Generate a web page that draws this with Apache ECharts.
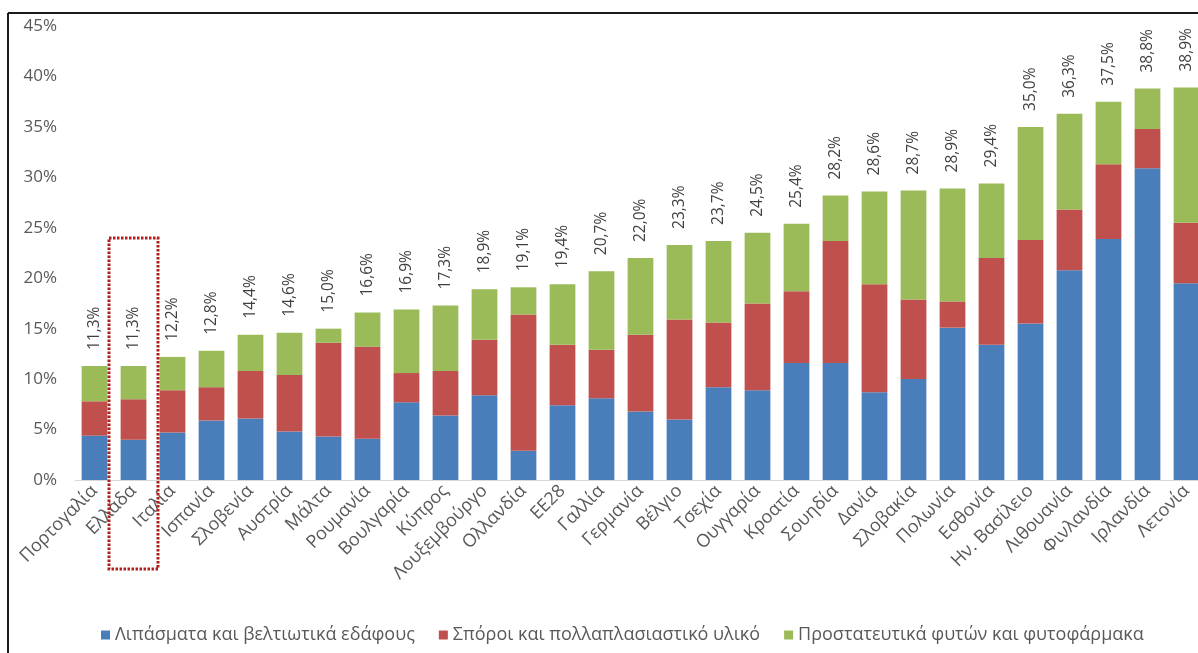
<!DOCTYPE html>
<html>
<head>
<meta charset="utf-8">
<script src="https://cdn.jsdelivr.net/npm/echarts@6.0.0/dist/echarts.min.js"></script>
<style>
  html, body { margin: 0; padding: 0; background: #ffffff; }
  #chart { width: 1198px; height: 653px; overflow: hidden; }
</style>
</head>
<body>
<div id="chart"></div>
<script>
const categories = ['Πορτογαλία','Ελλάδα','Ιταλία','Ισπανία','Σλοβενία','Αυστρία','Μάλτα','Ρουμανία','Βουλγαρία','Κύπρος','Λουξεμβούργο','Ολλανδία','ΕΕ28','Γαλλία','Γερμανία','Βέλγιο','Τσεχία','Ουγγαρία','Κροατία','Σουηδία','Δανία','Σλοβακία','Πολωνία','Εσθονία','Ην. Βασίλειο','Λιθουανία','Φινλανδία','Ιρλανδία','Λετονία'];
const fertilizers = [4.4,4.0,4.7,5.9,6.1,4.8,4.3,4.1,7.7,6.4,8.4,2.9,7.4,8.1,6.8,6.0,9.2,8.9,11.6,11.6,8.7,10.0,15.1,13.4,15.5,20.8,23.9,30.9,19.5];
const seeds = [3.4,4.0,4.2,3.3,4.7,5.6,9.3,9.1,2.9,4.4,5.5,13.5,6.0,4.8,7.6,9.9,6.4,8.6,7.1,12.1,10.7,7.9,2.6,8.6,8.3,6.0,7.4,3.9,6.0];
const pesticides = [3.5,3.3,3.3,3.6,3.6,4.2,1.4,3.4,6.3,6.5,5.0,2.7,6.0,7.8,7.6,7.4,8.1,7.0,6.7,4.5,9.2,10.8,11.2,7.4,11.2,9.5,6.2,4.0,13.4];
const totals = [11.3,11.3,12.2,12.8,14.4,14.6,15.0,16.6,16.9,17.3,18.9,19.1,19.4,20.7,22.0,23.3,23.7,24.5,25.4,28.2,28.6,28.7,28.9,29.4,35.0,36.3,37.5,38.8,38.9];
const yTicks = [0,5,10,15,20,25,30,35,40,45];
const seriesNames = ['Λιπάσματα και βελτιωτικά εδάφους','Σπόροι και πολλαπλασιαστικό υλικό','Προστατευτικά φυτών και φυτοφάρμακα'];
const highlighted = 'Ελλάδα';

const FONT = "'Open Sans', 'Noto Sans', 'DejaVu Sans', sans-serif";
const colors = ['#4A7EBB', '#C0504D', '#9BBB59'];

const chart = echarts.init(document.getElementById('chart'), null, { renderer: 'canvas' });

function fmtPct(v) { return v.toFixed(1).replace('.', ',') + '%'; }

const option = {
  backgroundColor: '#ffffff',
  animation: false,
  textStyle: { fontFamily: FONT },
  grid: {
    left: 75, top: 26, width: 29 * 39, height: 454,
    containLabel: false, outerBoundsMode: 'none'
  },
  legend: {
    left: 96, top: 621,
    icon: 'rect', itemWidth: 9, itemHeight: 9, itemGap: 24,
    textStyle: { fontFamily: FONT, fontSize: 18, color: '#595959' },
    data: seriesNames
  },
  xAxis: {
    type: 'category',
    data: categories,
    axisLine: { show: true, lineStyle: { color: '#d9d9d9', width: 1 } },
    axisTick: { show: false },
    axisLabel: { rotate: 45, margin: 8, fontSize: 18, color: '#595959', fontFamily: FONT, interval: 0 },
    splitLine: { show: false }
  },
  yAxis: {
    type: 'value',
    min: yTicks[0], max: yTicks[yTicks.length - 1], interval: 5,
    axisLine: { show: false },
    axisTick: { show: false },
    splitLine: { show: false },
    axisLabel: { formatter: '{value}%', fontSize: 17, color: '#595959', margin: 18, fontFamily: FONT }
  },
  series: [
    {
      name: seriesNames[0], type: 'bar', stack: 'total', data: fertilizers,
      barWidth: '66%', itemStyle: { color: colors[0] }
    },
    {
      name: seriesNames[1], type: 'bar', stack: 'total', data: seeds,
      barWidth: '66%', itemStyle: { color: colors[1] }
    },
    {
      name: seriesNames[2], type: 'bar', stack: 'total', data: pesticides,
      barWidth: '66%', itemStyle: { color: colors[2] },
      label: {
        show: true, position: 'top', rotate: 90, align: 'left', verticalAlign: 'middle',
        distance: 16, fontSize: 15.5, color: '#404040', fontFamily: FONT,
        formatter: function (p) { return fmtPct(totals[p.dataIndex]); }
      }
    }
  ]
};

chart.setOption(option);

// decorations: outer frame (cropped) and dotted highlight box around Greece
const cx = chart.convertToPixel({ xAxisIndex: 0 }, highlighted);
chart.setOption({
  graphic: [
    { type: 'line', z: 100, shape: { x1: 8, y1: 13, x2: 1198, y2: 13 }, style: { stroke: '#1a1a1a', lineWidth: 2 } },
    { type: 'line', z: 100, shape: { x1: 8, y1: 13, x2: 8, y2: 653 }, style: { stroke: '#1a1a1a', lineWidth: 2 } },
    { type: 'rect', z: 100, shape: { x: cx - 24.5, y: 238, width: 49, height: 331 },
      style: { fill: 'none', stroke: '#B01E1E', lineWidth: 3, lineDash: [2.5, 1.5] } }
  ]
});
</script>
</body>
</html>
